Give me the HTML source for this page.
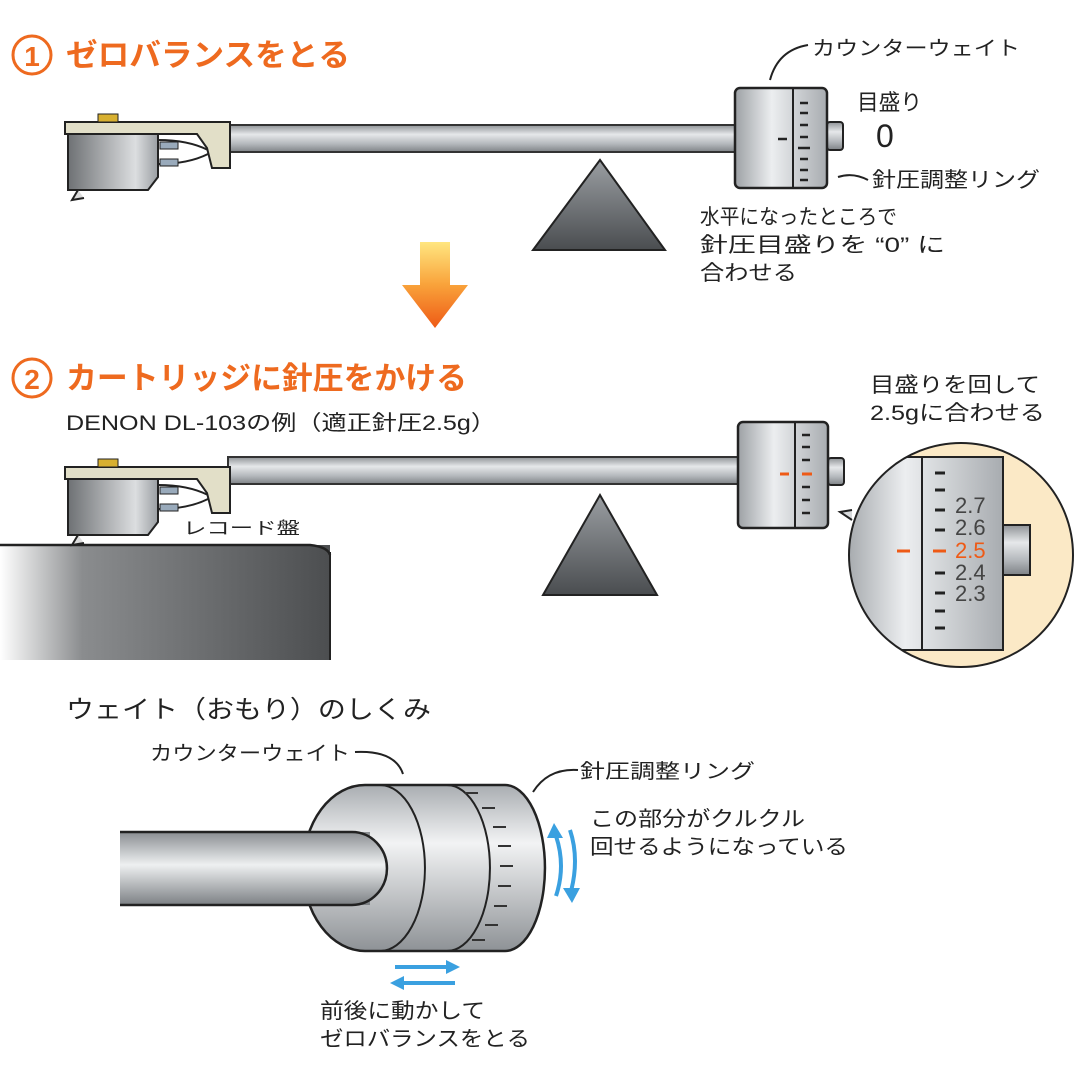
<!DOCTYPE html>
<html><head><meta charset="utf-8"><style>
body{margin:0;background:#fff}
svg{display:block}
text{font-family:"Liberation Sans","Noto Sans CJK JP",sans-serif;fill:#222}
.o{fill:#ee6a1f;font-weight:bold}
</style></head><body>
<svg width="1080" height="1080" viewBox="0 0 1080 1080">
<defs>
<linearGradient id="tube" x1="0" y1="0" x2="0" y2="1"><stop offset="0" stop-color="#8e9296"/><stop offset=".35" stop-color="#e6e8ea"/><stop offset=".7" stop-color="#b4b8bc"/><stop offset="1" stop-color="#7e8286"/></linearGradient>
<linearGradient id="cw" x1="0" y1="0" x2="1" y2="0"><stop offset="0" stop-color="#9da1a5"/><stop offset=".4" stop-color="#eceef0"/><stop offset="1" stop-color="#a8acb0"/></linearGradient>
<linearGradient id="tri" x1="0" y1="0" x2="0" y2="1"><stop offset="0" stop-color="#9a9ea2"/><stop offset="1" stop-color="#4a4d50"/></linearGradient>
<linearGradient id="cart" x1="0" y1="0" x2="1" y2="0"><stop offset="0" stop-color="#6e7174"/><stop offset=".75" stop-color="#dcdee0"/><stop offset="1" stop-color="#9a9ea2"/></linearGradient>
<linearGradient id="rec" x1="0" y1="0" x2="1" y2="0"><stop offset="0" stop-color="#fff"/><stop offset=".25" stop-color="#8a8c8e"/><stop offset="1" stop-color="#4c4e50"/></linearGradient>
<linearGradient id="arr" x1="0" y1="0" x2="0" y2="1"><stop offset="0" stop-color="#ffe680"/><stop offset=".5" stop-color="#f9a23a"/><stop offset="1" stop-color="#ee5a16"/></linearGradient>
<linearGradient id="big" x1="0" y1="0" x2="0" y2="1"><stop offset="0" stop-color="#a9adb1"/><stop offset=".35" stop-color="#f2f3f4"/><stop offset="1" stop-color="#8e9296"/></linearGradient>
<linearGradient id="bigt" x1="0" y1="0" x2="0" y2="1"><stop offset="0" stop-color="#8a8e92"/><stop offset=".45" stop-color="#eef0f1"/><stop offset="1" stop-color="#7c8084"/></linearGradient>
<g id="cartg">
<path d="M68 132 h90 v45 l-10 13 h-80 z" fill="url(#cart)" stroke="#222" stroke-width="2"/>
<path d="M158 140 q30 0 50 10 M158 164 q30 0 50 -10" fill="none" stroke="#222" stroke-width="2"/>
<rect x="160" y="142" width="18" height="7" fill="#9ab" stroke="#222"/>
<rect x="160" y="159" width="18" height="7" fill="#9ab" stroke="#222"/>
<path d="M65 122 h165 v46 h-18 l-5 -20 l-10 -14 h-132 z" fill="#e2dfc8" stroke="#222" stroke-width="2"/>
<rect x="98" y="114" width="20" height="8" fill="#d8b030" stroke="#222"/>
<path d="M78 190 l-6 10 l12 -2" fill="#ddd" stroke="#222" stroke-width="2"/>
</g>
</defs>

<!-- section 1 -->
<circle cx="32" cy="55" r="19" fill="#fff" stroke="#ee6a1f" stroke-width="3"/>
<text x="32" y="66" class="o" font-size="28" text-anchor="middle">1</text>
<text x="66" y="66" class="o" font-size="31" textLength="284" lengthAdjust="spacingAndGlyphs">ゼロバランスをとる</text>

<rect x="228" y="125" width="512" height="27" fill="url(#tube)" stroke="#333" stroke-width="2"/>
<use href="#cartg"/>
<rect x="827" y="122" width="16" height="28" rx="3" fill="url(#tube)" stroke="#222" stroke-width="2"/>
<rect x="735" y="88" width="92" height="100" rx="5" fill="url(#cw)" stroke="#222" stroke-width="2.5"/>
<line x1="793" y1="88" x2="793" y2="188" stroke="#222" stroke-width="2"/>
<g stroke="#222" stroke-width="2.5">
<line x1="800" y1="103" x2="808" y2="103"/><line x1="800" y1="113" x2="808" y2="113"/><line x1="800" y1="125" x2="808" y2="125"/><line x1="800" y1="137" x2="808" y2="137"/><line x1="798" y1="148" x2="810" y2="148"/><line x1="800" y1="159" x2="808" y2="159"/><line x1="800" y1="170" x2="808" y2="170"/><line x1="800" y1="180" x2="808" y2="180"/><line x1="778" y1="139" x2="787" y2="139"/>
</g>
<polygon points="600,160 533,250 665,250" fill="url(#tri)" stroke="#222" stroke-width="2"/>
<path d="M808 45 q-30 5 -38 35" fill="none" stroke="#222" stroke-width="2"/>
<text x="812" y="55" font-size="20" textLength="208" lengthAdjust="spacingAndGlyphs">カウンターウェイト</text>
<text x="857" y="110" font-size="22" textLength="65" lengthAdjust="spacingAndGlyphs">目盛り</text>
<text x="876" y="147" font-size="32">0</text>
<path d="M868 180 q-15 -8 -30 -3" fill="none" stroke="#222" stroke-width="2"/>
<text x="872" y="187" font-size="21" textLength="168" lengthAdjust="spacingAndGlyphs">針圧調整リング</text>
<text x="700" y="224" font-size="21" textLength="197" lengthAdjust="spacingAndGlyphs">水平になったところで</text>
<text x="700" y="252" font-size="21" textLength="245" lengthAdjust="spacingAndGlyphs">針圧目盛りを “0” に</text>
<text x="700" y="280" font-size="21" textLength="97" lengthAdjust="spacingAndGlyphs">合わせる</text>

<polygon points="420,242 450,242 450,285 468,285 435,328 402,285 420,285" fill="url(#arr)"/>

<!-- section 2 -->
<circle cx="32" cy="378" r="19" fill="#fff" stroke="#ee6a1f" stroke-width="3"/>
<text x="32" y="389" class="o" font-size="28" text-anchor="middle">2</text>
<text x="66" y="389" class="o" font-size="31" textLength="401" lengthAdjust="spacingAndGlyphs">カートリッジに針圧をかける</text>
<text x="66" y="430" font-size="21" textLength="430" lengthAdjust="spacingAndGlyphs">DENON DL-103の例（適正針圧2.5g）</text>

<rect x="0" y="545" width="330" height="115" fill="url(#rec)"/>
<path d="M0 545 h310 q18 2 20 10" fill="none" stroke="#222" stroke-width="2.5"/>
<line x1="330" y1="552" x2="330" y2="660" stroke="#222" stroke-width="2"/>
<rect x="228" y="457" width="514" height="27" fill="url(#tube)" stroke="#333" stroke-width="2"/>
<use href="#cartg" transform="translate(0,345)"/>
<text x="183" y="534" font-size="17" textLength="117" lengthAdjust="spacingAndGlyphs">レコード盤</text>
<rect x="828" y="458" width="16" height="27" rx="3" fill="url(#tube)" stroke="#222" stroke-width="2"/>
<rect x="738" y="422" width="90" height="106" rx="5" fill="url(#cw)" stroke="#222" stroke-width="2.5"/>
<line x1="795" y1="422" x2="795" y2="528" stroke="#222" stroke-width="2"/>
<g stroke="#222" stroke-width="2.5">
<line x1="802" y1="435" x2="810" y2="435"/><line x1="802" y1="447" x2="810" y2="447"/><line x1="802" y1="460" x2="810" y2="460"/><line x1="802" y1="487" x2="810" y2="487"/><line x1="802" y1="500" x2="810" y2="500"/><line x1="802" y1="513" x2="810" y2="513"/>
</g>
<line x1="780" y1="474" x2="789" y2="474" stroke="#ee5a16" stroke-width="3"/>
<line x1="802" y1="474" x2="812" y2="474" stroke="#ee5a16" stroke-width="3"/>
<polygon points="600,495 543,595 657,595" fill="url(#tri)" stroke="#222" stroke-width="2"/>
<text x="870" y="392" font-size="21" textLength="170" lengthAdjust="spacingAndGlyphs">目盛りを回して</text>
<text x="870" y="420" font-size="21" textLength="175" lengthAdjust="spacingAndGlyphs">2.5gに合わせる</text>

<clipPath id="cc"><circle cx="961" cy="555" r="112"/></clipPath>
<circle cx="961" cy="555" r="112" fill="#fbe9c6"/>
<g clip-path="url(#cc)">
<rect x="840" y="457" width="163" height="193" fill="url(#cw)" stroke="#222" stroke-width="2"/>
<rect x="1003" y="525" width="27" height="50" fill="url(#tube)" stroke="#222" stroke-width="2"/>
<line x1="922" y1="457" x2="922" y2="650" stroke="#222" stroke-width="2"/>
<g stroke="#222" stroke-width="3">
<line x1="935" y1="473" x2="945" y2="473"/><line x1="935" y1="490" x2="945" y2="490"/><line x1="935" y1="510" x2="945" y2="510"/><line x1="935" y1="530" x2="945" y2="530"/><line x1="935" y1="573" x2="945" y2="573"/><line x1="935" y1="593" x2="945" y2="593"/><line x1="935" y1="611" x2="945" y2="611"/><line x1="935" y1="628" x2="945" y2="628"/>
</g>
<line x1="897" y1="551" x2="910" y2="551" stroke="#ee5a16" stroke-width="3"/>
<line x1="933" y1="551" x2="946" y2="551" stroke="#ee5a16" stroke-width="3"/>
<g font-size="22"><text x="955" y="513" style="fill:#444">2.7</text><text x="955" y="535" style="fill:#444">2.6</text><text x="955" y="558" style="fill:#ee5a16">2.5</text><text x="955" y="580" style="fill:#444">2.4</text><text x="955" y="601" style="fill:#444">2.3</text></g>
</g>
<circle cx="961" cy="555" r="112" fill="none" stroke="#222" stroke-width="2"/>
<path d="M852 510 l-12 2 l12 8" fill="#d8dadc" stroke="#222" stroke-width="2"/>

<!-- section 3 -->
<text x="66" y="718" font-size="25" textLength="365" lengthAdjust="spacingAndGlyphs">ウェイト（おもり）のしくみ</text>
<text x="150" y="760" font-size="20" textLength="200" lengthAdjust="spacingAndGlyphs">カウンターウェイト</text>
<path d="M355 752 q40 -2 48 22" fill="none" stroke="#222" stroke-width="2"/>
<path d="M578 770 q-30 -2 -45 22" fill="none" stroke="#222" stroke-width="2"/>
<text x="580" y="778" font-size="20" textLength="175" lengthAdjust="spacingAndGlyphs">針圧調整リング</text>
<text x="590" y="826" font-size="21" textLength="215" lengthAdjust="spacingAndGlyphs">この部分がクルクル</text>
<text x="590" y="854" font-size="21" textLength="258" lengthAdjust="spacingAndGlyphs">回せるようになっている</text>

<path d="M365 785 H505 A40 83 0 0 1 505 951 H365 A62 83 0 0 1 365 785 Z" fill="url(#big)" stroke="#222" stroke-width="2.5"/>
<path d="M380 785 A45 83 0 0 1 380 951" fill="none" stroke="#222" stroke-width="2"/>
<path d="M447 785 A43 83 0 0 1 447 951" fill="none" stroke="#222" stroke-width="2"/>
<rect x="120" y="832" width="250" height="73" fill="url(#bigt)"/>
<path d="M120 832 H352 A35 36.5 0 0 1 352 905 H120" fill="url(#bigt)" stroke="#222" stroke-width="2.5"/>
<g stroke="#333" stroke-width="2">
<line x1="465" y1="793" x2="478" y2="793"/><line x1="482" y1="808" x2="495" y2="808"/><line x1="493" y1="827" x2="506" y2="827"/><line x1="498" y1="846" x2="511" y2="846"/><line x1="500" y1="866" x2="513" y2="866"/><line x1="498" y1="886" x2="511" y2="886"/><line x1="494" y1="906" x2="507" y2="906"/><line x1="485" y1="925" x2="498" y2="925"/><line x1="472" y1="940" x2="485" y2="940"/>
</g>
<g fill="none" stroke="#3aa0e0" stroke-width="4">
<path d="M556 896 q10 -30 0 -60"/><path d="M570 830 q10 30 0 65"/>
<line x1="395" y1="967" x2="450" y2="967"/><line x1="400" y1="983" x2="455" y2="983"/>
</g>
<g fill="#3aa0e0">
<polygon points="547,838 554,823 563,838"/><polygon points="563,888 572,903 580,888"/>
<polygon points="446,960 460,967 446,974"/><polygon points="404,976 390,983 404,990"/>
</g>
<text x="320" y="1018" font-size="21" textLength="165" lengthAdjust="spacingAndGlyphs">前後に動かして</text>
<text x="320" y="1046" font-size="21" textLength="210" lengthAdjust="spacingAndGlyphs">ゼロバランスをとる</text>
</svg>
</body></html>
